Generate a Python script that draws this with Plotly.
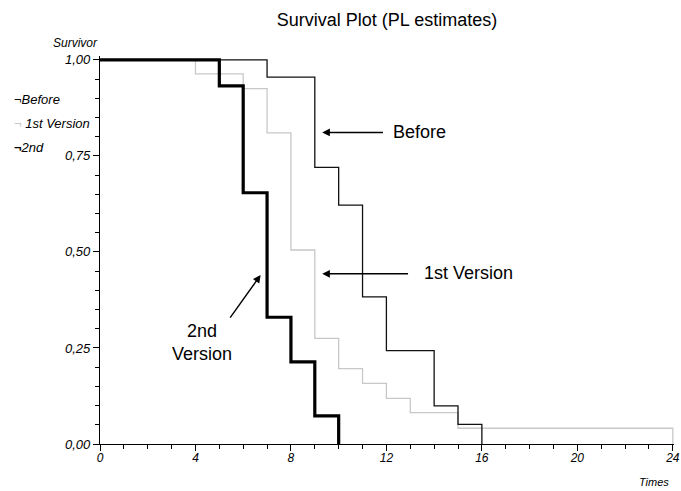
import plotly.graph_objects as go

# ---- data ----
before_t = [0, 7, 9, 10, 11, 12, 14, 15, 16]
before_s = [1.0, 0.955, 0.72, 0.622, 0.383, 0.243, 0.099, 0.051, 0.0]

first_t = [0, 4, 6, 7, 8, 9, 10, 11, 12, 13, 15, 24]
first_s = [1.0, 0.9635, 0.925, 0.81, 0.505, 0.275, 0.196, 0.158, 0.119, 0.0815, 0.041, 0.0]

second_t = [0, 5, 6, 7, 8, 9, 10]
second_s = [1.0, 0.932, 0.654, 0.33, 0.214, 0.073, 0.0]

x_tickvals = [0, 4, 8, 12, 16, 20, 24]
x_ticktext = ["0", "4", "8", "12", "16", "20", "24"]
y_tickvals = [0, 0.25, 0.5, 0.75, 1.0]
y_ticktext = ["0,00", "0,25", "0,50", "0,75", "1,00"]

FONT = "Liberation Sans, Arial, sans-serif"

fig = go.Figure()
fig.add_trace(go.Scatter(x=first_t, y=first_s, mode="lines", line_shape="hv",
                         line=dict(color="#c8c8c8", width=1.3), name="1st Version"))
fig.add_trace(go.Scatter(x=before_t, y=before_s, mode="lines", line_shape="hv",
                         line=dict(color="#111111", width=1.3), name="Before"))
fig.add_trace(go.Scatter(x=second_t, y=second_s, mode="lines", line_shape="hv",
                         line=dict(color="black", width=3.2), name="2nd"))

fig.update_xaxes(range=[0, 24.05], showline=True, linecolor="black", linewidth=1.3,
                 ticks="outside", ticklen=6, tickwidth=1.2, tickcolor="black",
                 tickvals=x_tickvals, ticktext=x_ticktext,
                 tickfont=dict(family=FONT, size=12, color="black", style="italic"),
                 ticklabelstandoff=-4, automargin=False,
                 showgrid=False, zeroline=False,
                 minor=dict(ticks="outside", ticklen=4, dtick=1, tick0=0,
                            tickcolor="black", tickwidth=1.2, showgrid=False))
fig.update_yaxes(range=[0, 1.01], showline=True, linecolor="black", linewidth=1.3,
                 ticks="outside", ticklen=6, tickwidth=1.2, tickcolor="black",
                 tickvals=y_tickvals, ticktext=y_ticktext,
                 tickfont=dict(family=FONT, size=13, color="black", style="italic"),
                 automargin=False,
                 showgrid=False, zeroline=False,
                 minor=dict(ticks="outside", ticklen=4, dtick=0.05, tick0=0,
                            tickcolor="black", tickwidth=1.2, showgrid=False))

ann = []
big = dict(family=FONT, size=18, color="black")
arrow = dict(showarrow=True, arrowhead=2, arrowsize=1.1, arrowwidth=1.4, arrowcolor="black", text="",
             xref="x", yref="y", axref="x", ayref="y")
# Before
ann.append(dict(x=9.31, y=0.811, ax=11.92, ay=0.811, **arrow))
ann.append(dict(x=12.21, y=0.811, xref="x", yref="y", text="Before", showarrow=False,
                xanchor="left", yanchor="middle", font=big))
# 1st Version
ann.append(dict(x=9.31, y=0.443, ax=12.97, ay=0.443, **arrow))
ann.append(dict(x=13.51, y=0.445, xref="x", yref="y", text="1st Version", showarrow=False,
                xanchor="left", yanchor="middle", font=big))
# 2nd Version
ann.append(dict(x=6.73, y=0.44, ax=5.41, ay=0.325, **arrow))
ann.append(dict(x=4.29, y=0.263, xref="x", yref="y", text="2nd<br>Version", showarrow=False,
                xanchor="center", yanchor="middle", align="center", font=big))

# axis labels (paper coordinates, outside the plot area)
ann.append(dict(x=0, y=1.034, xref="paper", yref="paper", text="Survivor", showarrow=False,
                xanchor="right", yanchor="middle",
                font=dict(family=FONT, size=12, color="black", style="italic")))
ann.append(dict(x=0.995, y=-0.098, xref="paper", yref="paper", text="Times", showarrow=False,
                xanchor="right", yanchor="middle",
                font=dict(family=FONT, size=11, color="black", style="italic")))
# legend
leg_font = dict(family=FONT, size=13, color="black")
ann.append(dict(x=-0.153, y=0.887, xref="paper", yref="paper",
                text="<span style='color:#111'>¬</span><i>Before</i>",
                showarrow=False, xanchor="left", yanchor="middle", font=leg_font))
ann.append(dict(x=-0.153, y=0.825, xref="paper", yref="paper",
                text="<span style='color:#c8c8c8'>¬</span> <i>1st Version</i>",
                showarrow=False, xanchor="left", yanchor="middle", font=leg_font))
ann.append(dict(x=-0.153, y=0.765, xref="paper", yref="paper",
                text="<b>¬</b><i>2nd</i>",
                showarrow=False, xanchor="left", yanchor="middle", font=leg_font))

fig.update_layout(
    width=681, height=491,
    margin=dict(l=100, r=7, t=56, b=47),
    paper_bgcolor="white", plot_bgcolor="white",
    showlegend=False,
    title=dict(text="Survival Plot (PL estimates)", x=0.5, xref="paper", xanchor="center",
               y=1 - 20 / 491, yref="container", yanchor="middle",
               font=dict(family=FONT, size=18, color="black")),
    annotations=ann,
)

fig.write_html("out.html", config={"displayModeBar": False},
               post_script="document.body.style.margin='0';document.body.style.overflow='hidden';")
